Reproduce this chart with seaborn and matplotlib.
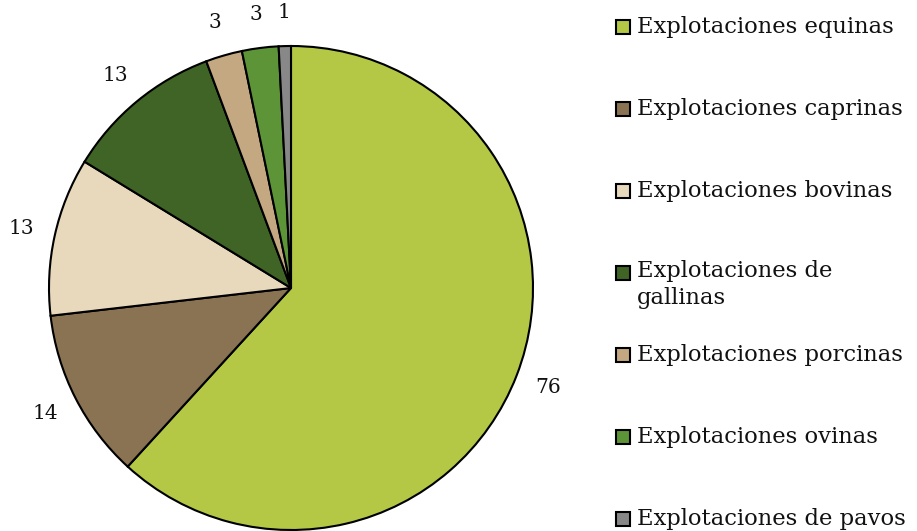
import matplotlib
matplotlib.use("Agg")
import matplotlib.pyplot as plt
import seaborn as sns
from matplotlib.patches import Rectangle

# data
categories = ["Explotaciones equinas", "Explotaciones caprinas", "Explotaciones bovinas",
              "Explotaciones de\ngallinas", "Explotaciones porcinas", "Explotaciones ovinas",
              "Explotaciones de pavos"]
values = [76, 14, 13, 13, 3, 3, 1]
colors = ["#b4c846", "#8a7353", "#e8d9bc", "#3f6426", "#c4a882", "#5e9438", "#888888"]

sns.set_theme(style="white")
plt.rcParams["font.family"] = ["DejaVu Serif"]

fig = plt.figure(figsize=(9.17, 5.31), dpi=100)
ax = fig.add_axes([49 / 917, 1 / 531, 484 / 917, 484 / 531])

wedges, texts = ax.pie(values, colors=colors, startangle=90, counterclock=False,
                       labels=[str(v) for v in values], labeldistance=1.14,
                       wedgeprops=dict(edgecolor="black", linewidth=1.5),
                       textprops=dict(fontsize=14.5, color="#111111"))
for t in texts:
    t.set_horizontalalignment("center")
    t.set_verticalalignment("center")
ax.set_xlim(-1, 1)
ax.set_ylim(-1, 1)
ax.set_aspect("equal")
ax.axis("off")

# legend, drawn as in the original layout (equal spacing, text wraps downward)
W, H = 917, 531
y0, step = 27, 82
for i, (lab, col) in enumerate(zip(categories, colors)):
    yc = y0 + i * step
    fig.patches.append(Rectangle((616 / W, (H - yc - 7) / H), 14 / W, 14 / H,
                                 transform=fig.transFigure, facecolor=col,
                                 edgecolor="black", linewidth=1.5))
    if "\n" in lab:
        fig.text(637 / W, (H - yc + 13) / H, lab, fontsize=16.3, color="#111111",
                 va="top", ha="left", linespacing=1.3)
    else:
        fig.text(637 / W, (H - yc) / H, lab, fontsize=16.3, color="#111111",
                 va="center", ha="left")

fig.savefig("out.png", dpi=100)
